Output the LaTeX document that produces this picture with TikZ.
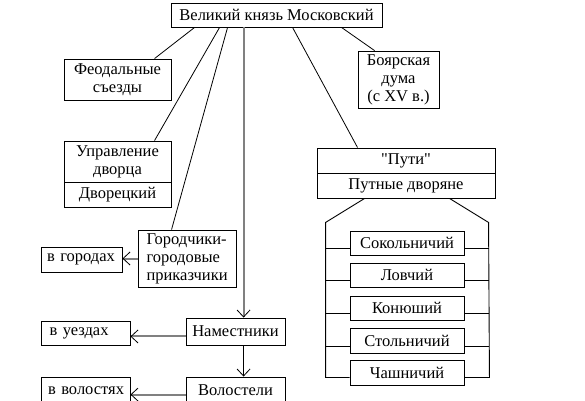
\documentclass[tikz,border=0pt]{standalone}
\usepackage{fontspec}
\setmainfont{Liberation Serif}
\usetikzlibrary{arrows.meta,calc}
\newcommand\mybox[6][]{\node[box,#1,minimum width={(#5-#3)*1pt},minimum height={(#6-#4)*1pt}] (#2) at ({(#3+#5)/2},{(#4+#6)/2})}
\begin{document}
\begin{tikzpicture}[x=1pt,y=-1pt,
  box/.style={draw,line width=0.9pt,inner sep=0pt,align=center,font=\fontsize{16.5}{18}\selectfont},
  lbox/.style={box,align=left,inner xsep=8.5pt},
  link/.style={line width=0.8pt},
  garrow/.style={draw=black!50,line width=2pt,-{Straight Barb[length=7pt,width=13pt,color=black,line width=0.8pt]}},
  barrow/.style={line width=0.8pt,-{Straight Barb[length=7pt,width=13pt,line width=0.8pt]}},
  house/.style={line width=0.9pt}]
\clip (0,0) rectangle (585,400);
\fill[white] (0,0) rectangle (585,400);

\mybox{top}{171}{3}{382}{27} {Великий князь Московский};
\mybox{feod}{64}{59}{171}{100} {Феодальные\\съезды};
\mybox{uprA}{64}{141}{171}{182} {Управление\\дворца};
\mybox{uprB}{64}{182}{171}{207} {Дворецкий};
\mybox[lbox,text width=81pt]{gorod}{138}{230}{236}{287} {Городчики-\\городовые\\приказчики};
\mybox[lbox,inner xsep=6pt,text width=69pt]{vgorod}{41}{247}{122}{272} {в городах};
\mybox{nam}{186}{318}{285}{345} {Наместники};
\mybox[lbox,text width=72pt]{vuezd}{41}{321}{130}{345} {в уездах};
\mybox{vol}{186}{377}{285}{410} {\raisebox{6pt}{Волостели}};
\mybox[lbox,inner xsep=7pt,text width=75pt]{vvol}{41}{377}{130}{410} {\raisebox{6pt}{в волостях}};
\mybox{boyar}{358}{51}{439}{108} {Боярская\\дума\\(с XV в.)};
\mybox{putiA}{317}{148}{495}{173} {\textquotedbl Пути\textquotedbl};
\mybox{putiB}{317}{173}{495}{198} {Путные дворяне};
\mybox{s1}{350}{231}{464}{255} {Сокольничий};
\mybox{s2}{350}{263}{464}{287} {Ловчий};
\mybox{s3}{350}{296}{464}{320} {Конюший};
\mybox{s4}{350}{328}{464}{353} {Стольничий};
\mybox{s5}{350}{360}{464}{385} {Чашничий};

% connectors from the grand prince
\draw[link] ($(top.south west)+(24,0)$) -- ($(feod.north west)+(91,0)$);
\draw[link] ($(top.south west)+(49,0)$) -- ($(uprA.north west)+(91,0)$);
\draw[link] ($(top.south west)+(57,0)$) -- ($(gorod.north west)+(34,0)$);
\draw[link] ($(top.south west)+(171,0)$) -- ($(boyar.north west)+(17,0)$);
\draw[link] ($(top.south west)+(122,0)$) -- ($(putiA.north west)+(41,0)$);
\draw[garrow] ($(top.south west)+(73,0)$) -- ($(nam.north west)+(58,0)$);

% local arrows
\draw[garrow] (gorod.west) -- (gorod.west -| vgorod.east);
\draw[garrow] ($(nam.south west)+(0,-9)$) coordinate (na) -- (na -| vuezd.east);
\draw[barrow] ($(nam.south west)+(58,0)$) -- ($(vol.north west)+(58,0)$);
\draw[garrow] ($(vol.north west)+(0,18)$) coordinate (va) -- (va -| vvol.east);

% the "house" of the court officials
\draw[house] ($(putiB.south west)+(48,0)$) -- ++(-39,24) -- ($(s5.south west)+(-24,-8)$) -- ($(s5.south west)+(0,-8)$);
\draw[house] ($(putiB.south west)+(133,0)$) -- ++(39,24) -- ($(s5.south east)+(25,-8)$) -- ($(s5.south east)+(0,-8)$);
\foreach \s in {s1,s2,s3,s4}{
  \draw[house] ($(\s.south west)+(0,-7.5)$) -- ++(-24,0);
  \draw[house] ($(\s.south east)+(0,-7.5)$) -- ++(25,0);
}
\end{tikzpicture}
\end{document}
